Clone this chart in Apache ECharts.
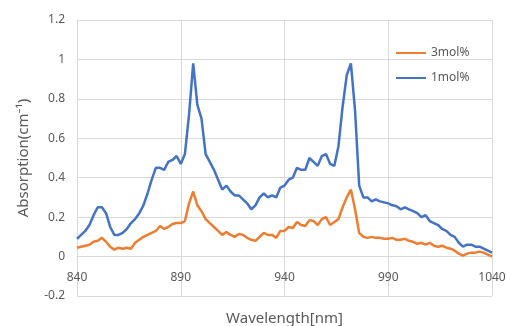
<!DOCTYPE html>
<html>
<head>
<meta charset="utf-8">
<script src="https://cdn.jsdelivr.net/npm/echarts@6/dist/echarts.min.js"></script>
<style>
  html, body { margin: 0; padding: 0; background: #fff; }
  #chart { width: 507px; height: 326px; }
</style>
</head>
<body>
<div id="chart"></div>
<script>
// wavelength in nm, read every 2 nm
const wavelength = [];
for (let w = 840; w <= 1040; w += 2) wavelength.push(w);

const absorption1 = [
  0.09, 0.11, 0.13, 0.16, 0.21, 0.25, 0.25, 0.22, 0.15, 0.11,
  0.11, 0.12, 0.14, 0.17, 0.19, 0.22, 0.26, 0.32, 0.39, 0.45,
  0.45, 0.44, 0.48, 0.49, 0.51, 0.47, 0.52, 0.72, 0.98, 0.77,
  0.70, 0.52, 0.48, 0.44, 0.39, 0.34, 0.36, 0.33, 0.31, 0.31,
  0.29, 0.27, 0.24, 0.26, 0.30, 0.32, 0.30, 0.31, 0.30, 0.35,
  0.36, 0.39, 0.40, 0.45, 0.44, 0.44, 0.50, 0.48, 0.46, 0.51,
  0.52, 0.47, 0.46, 0.56, 0.76, 0.92, 0.98, 0.74, 0.36, 0.30,
  0.30, 0.28, 0.29, 0.28, 0.275, 0.27, 0.26, 0.255, 0.24, 0.25,
  0.24, 0.23, 0.22, 0.20, 0.21, 0.18, 0.17, 0.16, 0.14, 0.13,
  0.11, 0.10, 0.07, 0.05, 0.06, 0.06, 0.05, 0.05, 0.04, 0.03,
  0.02
];

const absorption3 = [
  0.045, 0.05, 0.055, 0.06, 0.075, 0.08, 0.095, 0.075, 0.05, 0.035,
  0.045, 0.04, 0.045, 0.04, 0.07, 0.085, 0.10, 0.11, 0.12, 0.13,
  0.155, 0.14, 0.15, 0.165, 0.17, 0.17, 0.18, 0.27, 0.33, 0.26,
  0.23, 0.19, 0.17, 0.15, 0.13, 0.11, 0.125, 0.11, 0.10, 0.115,
  0.11, 0.095, 0.085, 0.08, 0.10, 0.12, 0.11, 0.11, 0.095, 0.13,
  0.13, 0.15, 0.145, 0.175, 0.16, 0.155, 0.185, 0.18, 0.16, 0.19,
  0.20, 0.16, 0.175, 0.19, 0.25, 0.30, 0.34, 0.24, 0.12, 0.10,
  0.095, 0.10, 0.095, 0.095, 0.09, 0.09, 0.095, 0.085, 0.085, 0.09,
  0.08, 0.075, 0.065, 0.07, 0.06, 0.07, 0.055, 0.05, 0.055, 0.045,
  0.04, 0.03, 0.015, 0.005, 0.015, 0.02, 0.02, 0.025, 0.02, 0.01,
  0.0
];

const seriesNames = ['3mol%', '1mol%'];
const textColor = '#595959';
const gridColor = '#d9d9d9';
const fontFamily = '"Noto Sans", "DejaVu Sans", sans-serif';

const gridTop = 20;
const gridBottom = 30;
const yMin = -0.2;
const yMax = 1.2;
// move the x axis up from the bottom edge to y = 0
const plotHeight = 326 - gridTop - gridBottom;
const zeroOffset = -plotHeight * (0 - yMin) / (yMax - yMin);

const toPairs = (ys) => wavelength.map((w, i) => [w, ys[i]]);

const chart = echarts.init(document.getElementById('chart'));
chart.setOption({
  animation: false,
  textStyle: { fontFamily: fontFamily },
  grid: { left: 77, right: 15, top: gridTop, bottom: gridBottom, outerBoundsMode: 'none', containLabel: false },
  legend: {
    data: seriesNames,
    orient: 'vertical',
    left: 390,
    top: 42,
    itemWidth: 30,
    itemHeight: 14,
    itemGap: 13,
    itemStyle: { opacity: 0 },
    textStyle: { color: textColor, fontSize: 12, fontFamily: fontFamily }
  },
  xAxis: {
    type: 'value',
    min: 840,
    max: 1040,
    interval: 50,
    position: 'bottom',
    offset: zeroOffset,
    name: 'Wavelength[nm]',
    nameLocation: 'middle',
    nameGap: 55,
    nameTextStyle: { color: textColor, fontSize: 15 },
    axisLine: { onZero: false, lineStyle: { color: gridColor, width: 1 } },
    axisTick: { show: false },
    axisLabel: { color: textColor, fontSize: 12, margin: 15, formatter: (v) => String(v) },
    splitLine: { show: true, lineStyle: { color: gridColor, width: 1 } }
  },
  yAxis: {
    type: 'value',
    min: yMin,
    max: yMax,
    interval: 0.2,
    name: 'Absorption(cm⁻¹)',
    nameLocation: 'middle',
    nameGap: 46,
    nameTextStyle: { color: textColor, fontSize: 15 },
    axisLine: { show: true, lineStyle: { color: gridColor, width: 1 } },
    axisTick: { show: false },
    axisLabel: {
      color: textColor,
      fontSize: 12,
      margin: 12,
      formatter: (v) => String(Math.round(v * 10) / 10)
    },
    splitLine: { show: true, lineStyle: { color: gridColor, width: 1 } }
  },
  series: [
    {
      name: '3mol%',
      type: 'line',
      data: toPairs(absorption3),
      symbol: 'none',
      color: '#ED7D31',
      lineStyle: { width: 2.5, color: '#ED7D31' },
      z: 2
    },
    {
      name: '1mol%',
      type: 'line',
      data: toPairs(absorption1),
      symbol: 'none',
      color: '#4472C4',
      lineStyle: { width: 2.5, color: '#4472C4' },
      z: 3
    }
  ]
});
</script>
</body>
</html>
